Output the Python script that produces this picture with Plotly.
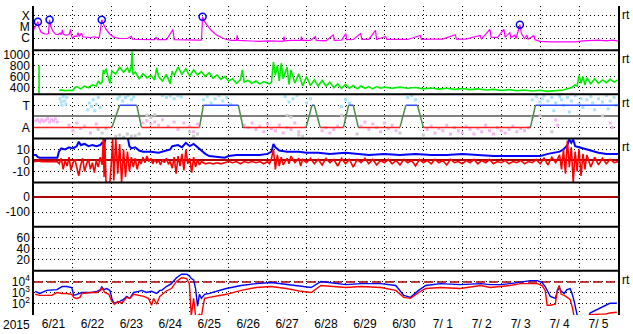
import plotly.graph_objects as go
from plotly.subplots import make_subplots

# ---------------- data (time in days since 2015-06-21 00:00 UT) ----------------
day_labels = ["6/21", "6/22", "6/23", "6/24", "6/25", "6/26", "6/27", "6/28",
              "6/29", "6/30", "7/ 1", "7/ 2", "7/ 3", "7/ 4", "7/ 5"]
year_label = "2015"

# GOES X-ray flux (W/m2)
xray_t = [0.0, 0.05, 0.10, 0.13, 0.18, 0.25, 0.33, 0.37, 0.40, 0.43,
          0.48, 0.55, 0.62, 0.67, 0.70, 0.73, 0.75, 0.82, 0.90, 0.94,
          0.96, 1.00, 1.03, 1.10, 1.13, 1.16, 1.22, 1.25, 1.35, 1.45,
          1.55, 1.60, 1.68, 1.74, 1.78, 1.85, 1.95, 2.05, 2.2, 2.4,
          2.50, 2.53, 2.7, 2.9, 3.10, 3.14, 3.17, 3.40, 3.57, 3.60,
          3.8, 4.0, 4.2, 4.30, 4.33, 4.38, 4.45, 4.55, 4.68, 4.81,
          4.94, 5.07, 5.20, 5.22, 5.24, 5.4, 5.6, 5.8, 6.0, 6.2,
          6.40, 6.42, 6.44, 6.6, 6.85, 6.87, 6.89, 7.1, 7.23, 7.25,
          7.5, 7.69, 7.71, 7.9, 8.01, 8.03, 8.2, 8.39, 8.42, 8.6,
          8.77, 8.80, 9.03, 9.06, 9.3, 9.6, 9.92, 9.95, 10.2, 10.5,
          10.82, 10.85, 11.1, 11.46, 11.49, 11.71, 11.74, 11.9, 12.07, 12.10,
          12.22, 12.25, 12.35, 12.38, 12.48, 12.52, 12.6, 12.66, 12.69, 12.84,
          12.87, 13.0, 13.3, 13.6, 13.9, 14.1, 14.3, 14.5, 14.7, 14.85,
          15.0]
xray_f = [6e-6, 1.2e-5, 3.0e-5, 9e-6, 3.5e-6, 2.5e-6, 2.2e-6, 2.5e-6, 4.5e-5, 1.2e-5,
          4.5e-6, 2.2e-6, 2.0e-6, 2.8e-6, 2.0e-6, 5.5e-6, 2.2e-6, 1.8e-6, 2.0e-6, 6e-6,
          1.7e-6, 9e-7, 1.5e-6, 1.4e-6, 3.0e-6, 1.4e-6, 2.8e-6, 1.3e-6, 1.2e-6, 1.1e-6,
          1.3e-6, 1.1e-6, 1.2e-6, 4.5e-5, 2.0e-5, 6e-6, 2.2e-6, 1.2e-6, 9e-7, 9e-7,
          1.4e-6, 8e-7, 7.5e-7, 7e-7, 7e-7, 1.2e-6, 7e-7, 7e-7, 5.8e-6, 7e-7,
          6.5e-7, 6e-7, 6.5e-7, 6.5e-7, 8.3e-5, 3.0e-5, 1.4e-5, 5e-6, 2e-6, 1.1e-6,
          7.4e-7, 6e-7, 6e-7, 1.7e-6, 6e-7, 5.5e-7, 5.5e-7, 4.9e-7, 5.5e-7, 4.9e-7,
          5e-7, 1.35e-6, 5.5e-7, 6e-7, 6e-7, 1.35e-6, 6e-7, 6e-7, 1.35e-6, 6e-7,
          5.5e-7, 2.0e-6, 6e-7, 6.5e-7, 2.5e-6, 7e-7, 7.4e-7, 2.5e-6, 7.4e-7, 7.4e-7,
          5e-6, 7.4e-7, 1.4e-6, 7.4e-7, 7e-7, 7.4e-7, 1.7e-6, 7.4e-7, 8e-7, 8e-7,
          2.0e-6, 8e-7, 8e-7, 1.7e-6, 8e-7, 6e-6, 1.2e-6, 1.1e-6, 6e-6, 1.2e-6,
          3.0e-6, 1.1e-6, 1.8e-6, 9e-7, 1.6e-5, 2.5e-6, 9e-7, 1.8e-6, 8e-7, 1.6e-6,
          7e-7, 5e-7, 4.5e-7, 4.4e-7, 4.5e-7, 5.5e-7, 6e-7, 6.5e-7, 5.5e-7, 6.5e-7,
          5.5e-7]
flare_t = [0.10, 0.40, 1.74, 4.33, 12.48]
flare_f = [3.0e-5, 4.5e-5, 4.5e-5, 8.3e-5, 1.6e-5]

# Solar wind speed (km/s)
speed_t = [0.13, 0.13, None,
           0.65, 0.7, 0.8, 0.9, 1.0, 1.05, 1.1, 1.2, 1.3, 1.4,
           1.5, 1.6, 1.65, 1.7, 1.75, 1.78, 1.8, 1.85, 1.9, 1.95,
           2.0, 2.1, 2.2, 2.3, 2.4, 2.45, 2.5, 2.52, 2.54, 2.6,
           2.7, 2.8, 2.9, 3.0, 3.1, 3.15, 3.2, 3.3, 3.4, 3.5,
           3.55, 3.6, 3.7, 3.8, 3.9, 4.0, 4.1, 4.2, 4.3, 4.4,
           4.5, 4.6, 4.7, 4.8, 4.9, 5.0, 5.1, 5.2, 5.3, 5.35,
           5.4, 5.5, 5.6, 5.7, 5.8, 5.9, 6.0, 6.05, 6.1, 6.15,
           6.2, 6.25, 6.3, 6.35, 6.4, 6.5, 6.55, 6.6, 6.7, 6.8,
           6.9, 7.0, 7.1, 7.2, 7.3, 7.4, 7.5, 7.6, 7.7, 7.8,
           7.9, 8.0, 8.1, 8.2, 8.3, 8.4, 8.5, 8.6, 8.7, 8.8,
           8.9, 9.0, 9.2, 9.4, 9.6, 9.8, 10.0, 10.2, 10.4, 10.6,
           10.8, 11.0, 11.2, 11.4, 11.6, 11.8, 12.0, 12.2, 12.4, 12.6,
           12.8, 13.0, 13.2, 13.4, 13.6, 13.7, 13.8, 13.9, 13.95, 14.0,
           14.05, 14.1, 14.15, 14.2, 14.3, 14.4, 14.5, 14.6, 14.7, 14.8,
           14.9, 15.0]
speed_v = [290, 800, None,
           350, 360, 345, 355, 350, 400, 420, 380, 430, 400,
           450, 430, 520, 470, 500, 720, 650, 740, 600, 480,
           700, 650, 770, 680, 760, 670, 780, 1050, 640, 680,
           560, 650, 580, 620, 540, 760, 600, 520, 640, 470,
           700, 620, 770, 640, 740, 610, 720, 630, 690, 600,
           670, 570, 630, 550, 600, 520, 560, 480, 540, 720,
           500, 530, 480, 520, 470, 510, 480, 470, 500, 860,
           620, 800, 520, 840, 560, 770, 460, 720, 480, 650,
           430, 600, 440, 540, 430, 530, 430, 500, 400, 470,
           390, 460, 390, 440, 380, 430, 390, 420, 380, 420,
           390, 410, 390, 410, 390, 405, 380, 395, 375, 390,
           370, 385, 365, 380, 360, 370, 350, 365, 345, 360,
           340, 355, 335, 345, 360, 380, 400, 450, 430, 620,
           480, 600, 450, 580, 470, 560, 480, 540, 490, 550,
           500, 540]

# IMF sector: boundaries and state (+1 toward, -1 away)
sector_t = [0, 2.0, 2.2, 2.64, 2.76, 4.25, 4.35, 5.25, 5.37, 6.99, 7.14, 7.2,
            7.35, 7.95, 8.08, 8.2, 8.33, 9.4, 9.55, 9.85, 10.0, 12.75, 12.88, 15]
sector_v = [-1, -1, 1, 1, -1, -1, 1, 1, -1, -1, 1, 1,
            -1, -1, 1, 1, -1, -1, 1, 1, -1, -1, 1, 1]

# IMF angle samples (toward / away / undetermined)
toward_t = [0.67, 0.70, 0.72, 0.75, 0.78, 0.82, 0.84, 1.38, 1.42, 1.48, 1.52, 1.56, 1.6, 1.65, 1.7,
            2.15, 2.2, 2.28, 2.35, 2.42, 2.5, 2.56, 3.3, 3.4, 3.5, 3.6, 3.7, 3.78,
            4.35, 4.45, 4.55, 4.65, 4.75, 4.85, 4.95, 5.05, 6.45, 6.55, 6.65, 6.75, 7.0, 7.1,
            7.9, 8.0, 8.1, 9.6, 9.7, 9.8,
            12.8, 12.9, 13.0, 13.05, 13.1, 13.2, 13.3, 13.35, 13.4, 13.5, 13.55, 13.6, 13.7, 13.75,
            13.8, 13.9, 14.0, 14.05, 14.1, 14.2, 14.3, 14.35, 14.4, 14.5, 14.6, 14.7, 14.75, 14.8,
            14.9, 14.95]
toward_v = [1.6, 1.3, 1.0, 1.8, 1.4, 1.1, 1.7, 0.6, 1.2, 0.9, 1.5, 0.5, 1.1, 1.7, 0.8,
            1.6, 1.8, 1.4, 1.7, 1.9, 1.5, 1.75, 1.9, 1.7, 1.85, 1.6, 1.9, 1.75,
            1.5, 1.8, 1.2, 1.6, 1.9, 1.4, 1.7, 1.1, 1.8, 1.3, 1.6, 1.9, 1.2, 1.6,
            0.9, 1.5, 1.2, 1.7, 1.9, 1.5,
            1.5, 1.8, 1.3, 1.6, 1.9, 1.4, 1.7, 0.5, 1.2, 1.8, 1.5, 1.0, 1.7, 0.4,
            1.4, 1.9, 1.1, 1.6, 0.8, 1.5, 1.8, 1.2, 0.6, 1.6, 1.3, 1.9, 0.7, 1.4,
            1.7, 1.0]
away_t = [0.05, 0.1, 0.15, 0.2, 0.25, 0.3, 0.35, 0.4, 0.45, 0.5, 0.55, 0.6,
          0.9, 1.0, 1.1, 1.2, 1.3, 1.45, 1.6,
          2.8, 2.9, 3.0, 3.1, 3.2, 3.3, 3.45, 3.6, 3.7, 3.85, 4.0, 4.1, 4.2,
          5.4, 5.5, 5.6, 5.7, 5.8, 5.9, 6.0, 6.1, 6.2, 6.3, 6.4, 6.5, 6.6, 6.7, 6.8,
          7.4, 7.5, 7.6, 7.7, 7.8, 8.4, 8.5, 8.6, 8.7, 8.8, 8.9, 9.0, 9.1, 9.2, 9.3,
          10.1, 10.2, 10.3, 10.4, 10.5, 10.6, 10.7, 10.8, 10.9, 11.0, 11.1, 11.2, 11.3,
          11.4, 11.5, 11.6, 11.7, 11.8, 11.9, 12.0, 12.1, 12.2, 12.3, 12.4, 12.5, 12.6, 12.7,
          13.4, 13.45, 14.8, 14.85]
away_v = [-0.4, -0.3, -0.5, -0.3, -0.45, -0.35, -0.2, -0.5, -0.3, -0.4, -0.25, -0.5,
          -0.8, -1.3, -0.6, -1.1, -0.9, -1.5, -0.7,
          -0.6, -0.4, -0.7, -0.5, -0.8, -0.3, -0.9, -0.5, -1.2, -0.6, -0.9, -1.4, -0.7,
          -0.8, -1.0, -0.6, -1.2, -0.9, -1.4, -0.7, -1.1, -1.3, -0.8, -1.5, -1.0, -1.2, -0.6, -1.4,
          -1.3, -1.0, -1.5, -1.2, -0.9, -0.9, -0.5, -1.2, -0.7, -1.0, -1.4, -0.6, -1.1, -0.8, -1.3,
          -1.2, -0.9, -1.5, -1.1, -1.3, -0.8, -1.6, -1.0, -1.3, -1.5, -0.9, -1.2, -1.6,
          -1.1, -1.4, -0.8, -1.3, -1.6, -1.0, -1.3, -1.5, -1.2, -0.9, -1.4, -1.1, -1.3, -1.0,
          -0.3, -0.8, -0.6, -1.0]
mixed_t = [1.65, 1.75, 1.85, 2.1, 2.2, 2.3, 2.4, 2.5, 2.6, 2.7, 2.9, 3.0, 3.1, 4.0, 4.1,
           4.2, 6.5, 6.6, 6.8, 6.9, 7.9, 8.0, 8.3, 9.4, 10.0, 12.8, 13.0, 13.3, 14.6]
mixed_v = [-1.2, -1.5, -1.1, -1.8, -1.7, -1.9, -1.6, -1.8, -1.75, -1.6, 0.1, -0.1, 0.15, -1.4, -1.8,
           -1.6, 0.1, -0.05, -1.7, -1.8, 0.1, -0.1, -1.6, -1.5, -1.7, -0.1, 0.1, -1.4, 0.05]

# IMF Bt and Bz (nT)
bt_t = [0.0, 0.05, 0.1, 0.15, 0.6, 0.64, 0.7, 0.8, 0.9, 1.0,
        1.1, 1.15, 1.2, 1.3, 1.4, 1.5, 1.6, 1.7, 1.75, 1.8,
        1.85, 2.4, 2.45, 2.5, 2.6, 2.7, 2.8, 3.0, 3.2, 3.3,
        3.5, 3.55, 3.7, 3.8, 3.9, 4.0, 4.1, 4.2, 4.3, 4.4,
        4.5, 4.7, 4.9, 5.0, 5.2, 5.5, 5.8, 6.0, 6.1, 6.15,
        6.2, 6.3, 6.5, 6.8, 7.0, 7.3, 7.6, 8.0, 8.3, 8.6,
        9.0, 9.4, 9.8, 10.2, 10.6, 11.0, 11.4, 11.8, 12.2, 12.6,
        13.0, 13.2, 13.4, 13.5, 13.6, 13.7, 13.75, 13.8, 13.85, 13.9,
        14.0, 14.1, 14.2, 14.3, 14.4, 14.5, 14.7, 15.0]
bt_v = [5, 5, 3, 2.5, 2.5, 8, 11, 10, 12, 11,
        13, 17, 14, 15, 13, 14, 13, 14, 16, 15,
        22, 22, 13, 11, 12, 9, 8, 8, 7, 8,
        10, 13, 14, 12, 16, 13, 15, 12, 9, 6,
        4, 3, 2.5, 4, 5, 5, 5, 6, 8, 15,
        12, 9, 8, 8, 7, 7, 6, 7, 6, 5,
        6, 5, 6, 5, 5, 6, 5, 4, 4, 4,
        4, 6, 7, 8, 10, 14, 19, 16, 19, 13,
        12, 11, 10, 9, 8, 7, 6, 6]
bz_t = [0.0, 0.1, 0.2, 0.3, 0.4, 0.5, 0.6, 0.65, 0.7, 0.75,
        0.8, 0.85, 0.9, 0.95, 1.0, 1.05, 1.1, 1.15, 1.2, 1.25,
        1.3, 1.35, 1.4, 1.45, 1.5, 1.55, 1.6, 1.65, 1.7, 1.75,
        1.78, 1.8, 1.82, 1.85, 1.9, 1.95, 2.0, 2.02, 2.05, 2.1,
        2.15, 2.2, 2.25, 2.3, 2.35, 2.4, 2.45, 2.5, 2.55, 2.6,
        2.65, 2.7, 2.75, 2.8, 2.85, 2.9, 2.95, 3.0, 3.05, 3.1,
        3.15, 3.2, 3.25, 3.3, 3.35, 3.4, 3.45, 3.5, 3.55, 3.6,
        3.65, 3.7, 3.75, 3.8, 3.85, 3.9, 3.95, 4.0, 4.05, 4.1,
        4.15, 4.2, 4.25, 4.3, 4.4, 4.5, 4.6, 4.7, 4.8, 4.9,
        5.0, 5.1, 5.2, 5.3, 5.4, 5.5, 5.6, 5.7, 5.8, 5.9,
        6.0, 6.05, 6.1, 6.15, 6.2, 6.25, 6.3, 6.35, 6.4, 6.5,
        6.55, 6.6, 6.7, 6.8, 6.85, 6.9, 7.0, 7.1, 7.2, 7.3,
        7.4, 7.5, 7.6, 7.7, 7.8, 7.9, 8.0, 8.1, 8.2, 8.3,
        8.4, 8.5, 8.6, 8.7, 8.8, 8.9, 9.0, 9.1, 9.2, 9.3,
        9.4, 9.5, 9.6, 9.7, 9.8, 9.9, 10.0, 10.1, 10.2, 10.3,
        10.4, 10.5, 10.6, 10.7, 10.8, 10.9, 11.0, 11.1, 11.2, 11.3,
        11.4, 11.5, 11.6, 11.7, 11.8, 11.9, 12.0, 12.1, 12.2, 12.3,
        12.4, 12.5, 12.6, 12.7, 12.8, 12.9, 13.0, 13.1, 13.2, 13.3,
        13.4, 13.5, 13.55, 13.6, 13.65, 13.7, 13.75, 13.8, 13.85, 13.9,
        13.95, 14.0, 14.05, 14.1, 14.15, 14.2, 14.3, 14.4, 14.5, 14.6,
        14.7, 14.8, 14.9, 15.0]
bz_v = [-1, -0.5, -1, -1, -0.5, -1, -1, -3, 2, -8,
        0, -5, 3, -9, -2, 1, -7, -14, -4, 2,
        -10, -3, 1, -8, -2, -11, 0, -6, 3, -4,
        20, -15, 18, -20, -20, -20, 5, 20, -18, 20,
        -12, 15, -20, 10, -15, 8, -10, 3, -6, 2,
        -8, 0, -3, 3, -2, 4, -1, 2, -3, 1,
        -2, 0, -4, 1, -2, 2, -3, -1, -7, 3,
        -12, 4, -5, 6, -9, 10, -3, 2, -11, 3,
        -6, 1, -4, -1, -3, -2, -3, -2, -3, -2,
        -1, -2, -1, -3, -1, -2, -1, -2, -1, -3,
        -1, -3, 2, 10, -8, 5, -5, 3, -4, 2,
        -3, 4, -2, 2, -5, 1, -2, 2, -3, 1,
        -4, 2, -2, 1, -5, 2, -3, 1, -6, 1,
        -2, 2, -3, 1, -4, 0, -2, 1, -3, 0,
        -4, 1, -2, 0, -5, 1, -2, 0, -3, 1,
        -2, 0, -4, 1, -2, -1, -3, 0, -2, 1,
        -3, 0, -2, 1, -3, -1, -2, 0, -3, -1,
        -2, 0, -3, -1, -2, 1, -3, 2, -4, 3,
        -2, 5, -8, 10, -12, 18, -6, 12, -20, 8,
        -10, 10, -14, 6, -8, 5, -6, 3, -4, 2,
        -3, 1, -2, -1]

# Energetic electron flux (two channels)
e1_t = [0.03, 0.15, 0.33, 0.59, 0.72, 0.84, 0.97, 1.02, 1.10, 1.23,
        1.36, 1.48, 1.61, 1.71, 1.74, 1.79, 1.87, 1.95, 2.0, 2.05,
        2.12, 2.2, 2.3, 2.38, 2.46, 2.56, 2.69, 2.76, 2.89, 3.02,
        3.15, 3.23, 3.28, 3.4, 3.53, 3.66, 3.79, 3.92, 3.99, 4.04,
        4.10, 4.15, 4.20, 4.25, 4.30, 4.38, 4.5, 4.68, 4.94, 5.32,
        5.71, 6.09, 6.48, 6.86, 7.12, 7.37, 7.63, 8.01, 8.4, 8.91,
        9.29, 9.5, 9.67, 9.88, 10.06, 10.44, 10.95, 11.47, 11.72, 11.98,
        12.23, 12.49, 12.75, 12.93, 13.05, 13.13, 13.18, 13.26, 13.39, 13.44,
        13.49, 13.54, 13.62, 13.69, 13.77, 13.82, 13.87, 13.95, 14.03, 14.23,
        14.28, 14.54, 14.67, 14.79, 14.97]
e1_v = [1400, 900, 1700, 2000, 3800, 3800, 3100, 600, 750, 1100,
        1100, 1100, 1400, 2000, 3800, 2000, 2500, 1700, 320, 115,
        140, 170, 260, 490, 320, 1100, 1400, 1700, 1100, 1400,
        900, 1700, 1700, 3800, 7000, 24000, 50000, 50000, 35000, 20000,
        15000, 2500, 63, 750, 320, 750, 900, 1400, 2500, 4700,
        7000, 8700, 5700, 3800, 3100, 11000, 8700, 5700, 7000, 7000,
        4700, 600, 400, 1700, 4700, 7000, 5700, 7000, 5700, 5700,
        7000, 10000, 13000, 13000, 8700, 3800, 1700, 490, 320, 1400,
        3100, 1400, 900, 2000, 2500, 900, 200, 10, 5, 5,
        15, 42, 76, 115, 115]
e2_t = [0.03, 0.15, 0.33, 0.46, 0.59, 0.72, 0.84, 0.97, 1.02, 1.10,
        1.18, 1.23, 1.48, 1.61, 1.71, 1.74, 1.82, 1.92, 2.0, 2.07,
        2.15, 2.25, 2.38, 2.46, 2.56, 2.69, 2.82, 2.94, 3.02, 3.07,
        3.15, 3.23, 3.4, 3.53, 3.66, 3.79, 3.92, 3.99, 4.04, 4.10,
        4.15, 4.20, 4.25, 4.30, 4.38, 4.5, 4.68, 4.94, 5.32, 5.71,
        6.09, 6.48, 6.86, 7.12, 7.37, 7.63, 8.01, 8.4, 8.91, 9.29,
        9.5, 9.67, 9.88, 10.06, 10.44, 10.95, 11.47, 11.72, 11.98, 12.23,
        12.49, 12.75, 12.93, 13.05, 13.13, 13.18, 13.26, 13.39, 13.44, 13.49,
        13.54, 13.62, 13.69, 13.77, 13.82, 13.87, 14.23, 14.28, 14.54, 14.67,
        14.79, 14.97]
e2_v = [750, 600, 600, 600, 1100, 900, 900, 750, 400, 320,
        400, 900, 1100, 1100, 1700, 3100, 1100, 750, 170, 95,
        170, 115, 400, 320, 750, 600, 490, 320, 76, 320,
        95, 490, 1500, 2500, 11000, 24000, 20000, 7000, 8, 320,
        8, 8, 12, 8, 320, 400, 490, 750, 1700, 3100,
        3800, 2500, 1400, 1100, 4700, 3800, 3100, 3800, 3100, 1700,
        400, 320, 1100, 2500, 3100, 2500, 4700, 3100, 3800, 4700,
        7000, 7000, 7000, 4700, 1700, 76, 76, 95, 1700, 4700,
        750, 600, 400, 260, 63, 8, 8, 10.5, 12, 12,
        15, 18]
e_alert = 1.0e4

# ---------------- figure ----------------
FONT = "Liberation Sans"
fig = make_subplots(rows=7, cols=1, shared_xaxes=True, vertical_spacing=0)

# 1: X-ray
fig.add_trace(go.Scatter(x=xray_t, y=xray_f, mode="lines",
                         line=dict(color="#ff00ff", width=1.2)), row=1, col=1)
fig.add_trace(go.Scatter(x=flare_t, y=flare_f, mode="markers",
                         marker=dict(symbol="circle-open", size=7, color="#0000ff",
                                     line=dict(width=1.5, color="#0000ff"))), row=1, col=1)
# 2: speed
fig.add_trace(go.Scatter(x=speed_t, y=speed_v, mode="lines", connectgaps=False,
                         line=dict(color="#00ee00", width=1.6)), row=2, col=1)
# 3: sector
fig.add_trace(go.Scatter(x=mixed_t, y=mixed_v, mode="markers",
                         marker=dict(symbol="square", size=3, color="#cccccc")), row=3, col=1)
fig.add_trace(go.Scatter(x=away_t, y=away_v, mode="markers",
                         marker=dict(symbol="square", size=3, color="#f4b4f0")), row=3, col=1)
fig.add_trace(go.Scatter(x=toward_t, y=toward_v, mode="markers",
                         marker=dict(symbol="square", size=3, color="#a8e2f8")), row=3, col=1)
seg = {"A": ([], []), "T": ([], []), "X": ([], [])}
for i in range(len(sector_t) - 1):
    a, b = sector_v[i], sector_v[i + 1]
    key = "A" if (a < 0 and b < 0) else ("T" if (a > 0 and b > 0) else "X")
    seg[key][0].extend([sector_t[i], sector_t[i + 1], None])
    seg[key][1].extend([a, b, None])
for key, col in (("A", "#ff2020"), ("T", "#3050ff"), ("X", "#4a8a4a")):
    fig.add_trace(go.Scatter(x=seg[key][0], y=seg[key][1], mode="lines",
                             line=dict(color=col, width=1.5)), row=3, col=1)
# 4: IMF
fig.add_trace(go.Scatter(x=bt_t, y=bt_v, mode="lines",
                         line=dict(color="#0000ff", width=2)), row=4, col=1)
fig.add_trace(go.Scatter(x=bz_t, y=bz_v, mode="lines",
                         line=dict(color="#ff0000", width=1.6)), row=4, col=1)
# 5, 6: empty panels (no data in this period) -- placeholder traces so the axes are drawn
for r in (5, 6):
    fig.add_trace(go.Scatter(x=[None], y=[None], mode="lines"), row=r, col=1)
# 7: electrons
fig.add_trace(go.Scatter(x=[0, 15], y=[e_alert, e_alert], mode="lines",
                         line=dict(color="#b00000", width=1.5, dash="9px,4px")), row=7, col=1)
fig.add_trace(go.Scatter(x=e1_t, y=e1_v, mode="lines",
                         line=dict(color="#0000ff", width=1.4)), row=7, col=1)
fig.add_trace(go.Scatter(x=e2_t, y=e2_v, mode="lines",
                         line=dict(color="#ff0000", width=1.4)), row=7, col=1)

grid = dict(showgrid=True, gridcolor="black", griddash="1px,3px", gridwidth=1)
ycfg = {
    1: dict(type="log", range=[-7.1, -3.1], tickvals=[1e-4, 1e-5, 1e-6], ticktext=["X", "M", "C"]),
    2: dict(range=[282, 1075], tickvals=[400, 600, 800, 1000]),
    3: dict(range=[-2, 2], tickvals=[-1, 1], ticktext=["A", "T"],
            zeroline=True, zerolinecolor="#808080", zerolinewidth=1.5),
    4: dict(range=[-20, 20], tickvals=[-10, 0, 10], ticktext=["-10", "0", "10"],
            zeroline=True, zerolinecolor="#b00000", zerolinewidth=1.5),
    5: dict(range=[-200, 100], tickvals=[-100, 0], ticktext=["-100", "0"],
            zeroline=True, zerolinecolor="#b00000", zerolinewidth=1.5),
    6: dict(range=[0, 80], tickvals=[20, 40, 60]),
    7: dict(type="log", range=[1, 5], tickvals=[1e2, 1e3, 1e4],
            ticktext=["10<sup>2</sup>", "10<sup>3</sup>", "10<sup>4</sup>"]),
}
for r in range(1, 8):
    base = dict(showline=True, linecolor="black", linewidth=1.5, mirror=True, ticks="",
                zeroline=False, tickmode="array", fixedrange=True,
                tickfont=dict(family=FONT, size=12, color="black"), **grid)
    base.update(ycfg[r])
    fig.update_yaxes(row=r, col=1, **base)

fig.update_xaxes(range=[0, 15], tickmode="array",
                 tickvals=[i + 0.5 for i in range(len(day_labels))], ticktext=day_labels,
                 showgrid=False, zeroline=False, showline=False, ticks="",
                 tickfont=dict(family=FONT, size=12, color="black"),
                 minor=dict(tickmode="array", tickvals=list(range(1, 15)), showgrid=True,
                            gridcolor="black", griddash="1px,3px", gridwidth=1, ticks=""))

shapes = []
for k in range(1, 7):
    shapes.append(dict(type="line", xref="paper", yref="paper", x0=0, x1=1, y0=k / 7, y1=k / 7,
                       line=dict(color="black", width=2)))
annotations = []
for r in (1, 2, 3, 4, 7):
    annotations.append(dict(text="rt", xref="paper", x=1, xanchor="left", xshift=2,
                            yref=f"y{r if r > 1 else ''} domain", y=0.8, yanchor="middle",
                            showarrow=False, font=dict(family=FONT, size=12, color="black")))
annotations.append(dict(text=year_label, xref="paper", x=-0.03, xanchor="center",
                        yref="paper", y=0, yanchor="top", yshift=-1, showarrow=False,
                        font=dict(family=FONT, size=12, color="black")))

fig.update_layout(width=633, height=334, margin=dict(l=32, r=15, t=3, b=17),
                  paper_bgcolor="white", plot_bgcolor="white", showlegend=False,
                  shapes=shapes, annotations=annotations, hovermode=False)
fig.write_html("out.html")
